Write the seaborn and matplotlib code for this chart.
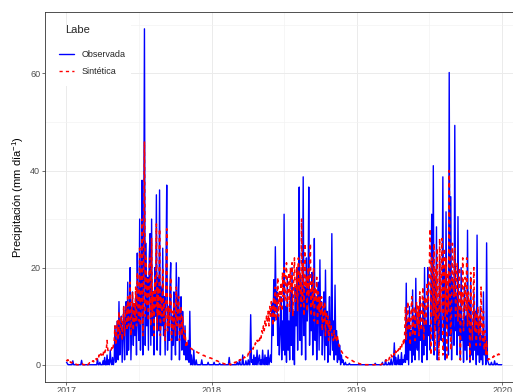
import matplotlib
matplotlib.use("Agg")
import matplotlib.pyplot as plt
from matplotlib.patches import Rectangle
import pandas as pd
import seaborn as sns

# precipitation, one value every 2 days (183 per year)
# one row per month: Jan .. Dec
years = [2017, 2018, 2019]

obs_2017 = [
    0.5, 0.3, 0, 0, 0, 0, 0, 0, 0.8, 0, 0, 0, 0, 0, 0, 0,
    0, 0, 0, 0.9, 0, 0, 0, 0, 0, 0, 0, 0, 0, 0,
    0, 0, 0, 0, 0, 0, 0, 0, 0, 1.2, 0, 0, 0.5, 0, 0,
    0, 0.8, 0, 1.5, 0, 0, 2, 0, 1, 0, 3, 0.5, 0, 1.5, 0,
    1, 8, 0.5, 4, 9, 1, 13, 2, 7, 10, 0.5, 6, 12, 1, 9, 13,
    2, 17, 3, 10, 20, 1, 8, 15, 4, 12, 6, 14, 2, 23, 9,
    5, 30, 3, 12, 38, 2, 20, 69.2, 4, 25, 8, 18, 3, 22, 27,
    4, 30, 6, 15, 2, 20, 10, 35, 3, 18, 7, 36, 2, 16, 8, 24,
    6, 14, 2, 18, 37, 3, 12, 5, 16, 21, 1, 10, 4, 15, 8,
    2, 21, 5, 12, 18, 1, 9, 14, 3, 11, 6, 2, 8, 1, 4,
    1, 5, 0.5, 11, 0, 2, 0, 0, 3, 0, 0, 1, 0, 0, 0,
    0, 0, 0, 1, 0, 0, 0, 0, 0, 0, 0, 0.5, 0, 0, 0, 0,
]
syn_2017 = [
    1, 0.8, 1, 0.6, 0.9, 0.5, 0.4, 0.5, 0.3, 0.2, 0.3, 0.1, 0.1, 0, 0, 0,
    0, 0, 0, 0, 0.2, 0, 0, 0, 0, 0.3, 0, 0, 0.2, 0.4,
    0.3, 0.5, 0.4, 0.8, 0.6, 1, 0.8, 1.2, 1, 1.5, 1.2, 2, 1.5, 2.2, 2,
    2.5, 2, 3, 2.5, 3, 2.8, 5, 3, 2.8, 3, 3.2, 3, 3.5, 3, 4,
    5, 8, 4, 7, 9, 5, 11, 6, 8, 10, 5, 9, 12, 6, 10, 12,
    7, 14, 8, 12, 17, 6, 11, 15, 7, 13, 9, 16, 8, 19, 12,
    9, 24, 8, 15, 30, 6, 20, 46, 10, 22, 12, 18, 9, 20, 22,
    8, 26, 10, 15, 6, 18, 12, 29, 7, 16, 10, 28, 6, 14, 10, 20,
    9, 13, 5, 16, 28, 7, 12, 8, 14, 18, 5, 11, 7, 13, 9,
    6, 16, 8, 11, 14, 5, 9, 12, 6, 10, 7, 5, 7, 4, 5,
    4, 3.8, 3.6, 3.5, 3.4, 3.3, 3.2, 3, 3, 2.9, 2.8, 2.7, 2.6, 2.5, 2.4,
    2.4, 2.3, 2.2, 2.1, 2, 1.9, 1.9, 1.8, 1.7, 1.7, 1.6, 1.5, 1.5, 1.4, 1.4, 1.3,
]
obs_2018 = [
    0, 0, 0, 0.5, 0, 0, 0, 0, 0, 0, 0.3, 0, 0, 0, 0, 0,
    0, 0, 0, 0, 0, 0, 1.5, 0, 0, 0, 0, 0, 0, 0,
    0, 0, 0.5, 0, 0, 1, 0, 0, 0, 2, 0, 0, 0, 0.8, 0,
    0, 1, 0, 0, 10.3, 0.5, 1, 0, 2, 0, 1.5, 0, 3, 0, 1,
    2, 0, 1, 0, 3, 0.5, 0, 2, 0, 1.5, 0, 3, 0, 1, 2, 0.5,
    12.7, 6, 17.5, 9, 24.3, 11, 15, 4, 10, 2, 7, 14, 1, 9, 3,
    31, 2, 12, 0.5, 18, 3, 9, 1, 15, 4, 20, 1, 11, 0, 16,
    8, 20, 3, 14, 36.6, 5, 18, 2, 11, 38.7, 6, 16, 1, 22, 9, 13,
    36.6, 4, 15, 7, 19, 2, 12, 26, 5, 14, 1, 10, 17, 3, 21.6,
    6, 13, 2, 9, 15, 1, 19.5, 4, 11, 0.5, 8, 14, 2, 6, 27,
    3, 9, 1, 16.4, 2, 7, 0.5, 5, 1, 4, 0, 2, 0.5, 1, 0,
    0, 0.5, 0, 0, 0, 0, 0.3, 0, 0, 0, 0, 0, 0, 0, 0, 0,
]
syn_2018 = [
    1.3, 1.2, 1.1, 1, 1, 0.9, 0.8, 0.8, 0.7, 0.6, 0.5, 0.5, 0.4, 0.3, 0.3, 0.2,
    0.2, 0.1, 0.1, 0, 0, 0, 0.2, 0, 0, 0.3, 0.2, 0.4, 0.3, 0.5,
    0.4, 0.6, 0.5, 0.8, 0.7, 1, 0.9, 1.2, 1, 1.4, 1.3, 1.6, 1.5, 1.8, 2,
    1.8, 2.2, 3, 2.5, 2.8, 3, 3.5, 3.2, 4, 3.8, 4.5, 4.2, 5, 4.8, 5.5,
    5, 6, 5.5, 7, 6.5, 8, 7, 9, 8, 10, 9, 11, 8, 12, 10, 13,
    11, 8, 14, 10, 16, 9, 13, 18, 10, 15, 12, 17, 11, 19, 14,
    20, 13, 18, 21, 12, 16, 19, 11, 20, 15, 21, 10, 17, 22, 13,
    14, 20, 11, 22, 15, 19, 12, 30, 13, 21, 10, 25, 16, 18, 11, 20,
    14, 19, 25, 10, 17, 12, 20, 9, 16, 13, 18, 8, 15, 11, 14,
    10, 14, 7, 12, 9, 13, 6, 11, 8, 10, 5, 9, 7, 8, 6,
    6, 5, 7, 5.5, 6, 5, 5.8, 4.5, 4, 3.5, 3, 2.8, 2.5, 2.2, 2,
    1.9, 1.8, 1.6, 1.5, 1.4, 1.3, 1.2, 1.1, 1, 0.9, 0.8, 0.7, 0.6, 0.5, 0.5, 0.4,
]
obs_2019 = [
    0, 0, 0, 0, 0, 0, 0, 0, 0, 0, 0, 0, 0, 0, 0, 0,
    0, 0, 0, 0, 0, 0, 0, 0.3, 0, 0, 0, 0, 0, 0,
    0, 0, 0.5, 0, 0, 0, 1, 0, 0, 0, 0.5, 0, 0, 1.2, 0,
    0, 1, 4.5, 0, 1.5, 0, 0.5, 2, 0, 1, 0, 2.5, 0, 1, 0.5,
    2, 0.5, 16.8, 1, 9, 0, 12, 3, 7, 0.5, 15.4, 2, 10, 1, 17.8, 4,
    3, 11, 1, 14, 5, 8, 0.5, 13, 2, 20, 4, 9, 1, 20, 6,
    8, 3, 15, 31, 5, 41, 2, 18, 7, 28.4, 1, 13, 4, 22, 6,
    5, 12, 38.7, 3, 20, 1, 31.5, 8, 15, 2, 60.2, 6, 34.6, 1, 18, 9,
    4, 49.3, 7, 14, 2, 30.5, 6, 12, 1, 20, 5, 9, 0.5, 16, 3,
    10, 1, 27.7, 4, 13, 0.5, 18, 2, 8, 1, 15, 3, 11, 0, 26.7,
    2, 9, 0.5, 12, 1, 6, 0, 15, 2, 5, 0, 25.1, 1, 0.5, 0,
    0, 0, 0.5, 0, 0, 0, 0.8, 0, 0, 0.3, 0, 0, 0, 0, 0, 0,
]
syn_2019 = [
    0.4, 0.3, 0.3, 0.2, 0.2, 0.1, 0.1, 0.1, 0, 0, 0, 0, 0, 0, 0, 0,
    0, 0, 0, 0, 0, 0, 0, 0, 0, 0, 0, 0, 0, 0,
    0, 0.1, 0.2, 0.3, 0.5, 0.4, 0.8, 1, 0.7, 1.2, 1, 1.5, 1.3, 2, 1.6,
    2, 2.5, 2, 3, 2.5, 3.2, 2.8, 3, 3.5, 3, 4, 3.5, 4.5, 5, 4,
    6, 12, 5, 9, 13, 7, 10, 4, 11, 14, 6, 9, 12, 5, 10, 13,
    8, 12, 6, 15, 10, 7, 13, 16, 5, 11, 14, 8, 17, 12, 15,
    20, 28, 2, 22, 18, 10, 25, 3, 20, 9, 24, 14, 1, 26, 11,
    18, 26, 2, 20, 24, 10, 22, 1, 19, 11, 40, 16, 3, 13, 25, 17,
    14, 24, 10, 18, 21, 9, 16, 20, 1, 15, 12, 22, 7, 14, 18,
    11, 22, 8, 15, 12, 1, 19, 10, 5, 13, 20, 7, 11, 4, 9,
    12, 6, 10, 4, 16, 8, 5, 11, 3, 7, 2, 5, 1.5, 1, 1.2,
    1.2, 1.4, 1.3, 1.6, 1.5, 1.8, 1.7, 2, 1.9, 2.1, 2, 2.2, 2.1, 2.3, 2.2, 2.2,
]

series_names = ["Observada", "Sintética"]
series_colors = ["#0000FF", "#FF0000"]
legend_title = "Labe"
y_label = "Precipitación (mm día$^{-1}$)"
year_ticks = ["2017", "2018", "2019", "2020"]
y_ticks = [0, 20, 40, 60]
y_minor = [10, 30, 50, 70]

frames = []
for year, obs, syn in zip(years, [obs_2017, obs_2018, obs_2019],
                          [syn_2017, syn_2018, syn_2019]):
    assert len(obs) == 183 and len(syn) == 183, (year, len(obs), len(syn))
    fechas = pd.date_range(f"{year}-01-01", periods=183, freq="2D")
    frames.append(pd.DataFrame({"fecha": fechas, "serie": series_names[0], "valor": obs}))
    frames.append(pd.DataFrame({"fecha": fechas, "serie": series_names[1], "valor": syn}))
df = pd.concat(frames, ignore_index=True)

sns.set_theme(style="white")
plt.rcParams["font.family"] = ["Liberation Sans", "DejaVu Sans"]
plt.rcParams["mathtext.fontset"] = "custom"
plt.rcParams["mathtext.rm"] = "Liberation Sans"
plt.rcParams["mathtext.default"] = "regular"

W, H = 513, 392
L, T, PW, PH = 44.7, 12.0, 478.8, 369.5   # panel in pixels (runs past the right edge)
fig = plt.figure(figsize=(W / 100, H / 100), dpi=100)
ax = fig.add_axes([L / W, 1 - (T + PH) / H, PW / W, PH / H])


def ax_xy(px, py):
    return (px - L) / PW, 1 - (py - T) / PH


sns.lineplot(
    data=df, x="fecha", y="valor", hue="serie", style="serie",
    hue_order=series_names, style_order=series_names,
    palette=dict(zip(series_names, series_colors)),
    dashes={series_names[0]: "", series_names[1]: (2.3, 2.3)},
    estimator=None, linewidth=1.0, ax=ax, legend=True,
)
for line in ax.get_lines():
    line.set_zorder(3)
ax.get_lines()[1].set_linewidth(1.15)

# ggplot-like limits (5% expansion)
x0, x1 = df["fecha"].min(), df["fecha"].max()
span = x1 - x0
ax.set_xlim(x0 - 0.05 * span, x1 + 0.05 * span)
ymax = df["valor"].max()
ax.set_ylim(-0.05 * ymax, 1.05 * ymax)

ax.set_xticks(pd.to_datetime([f"{y}-01-01" for y in year_ticks]))
ax.set_xticklabels(year_ticks)
ax.set_xticks(pd.to_datetime([f"{y}-07-02" for y in year_ticks[:-1]]), minor=True)
ax.set_yticks(y_ticks)
ax.set_yticklabels([str(v) for v in y_ticks])
ax.set_yticks(y_minor, minor=True)

ax.set_axisbelow(True)
ax.grid(which="major", color="#EBEBEB", linewidth=0.7)
ax.grid(which="minor", color="#F2F2F2", linewidth=0.45)
ax.tick_params(which="major", length=2, width=0.5, color="#333333",
               labelsize=6.5, labelcolor="#4D4D4D", pad=1.2,
               bottom=True, left=True)
ax.tick_params(which="minor", length=0)
for sp in ax.spines.values():
    sp.set_color("#333333")
    sp.set_linewidth(0.6)

ax.set_xlabel("")
ax.set_ylabel(y_label, fontsize=8, labelpad=3, color="black")

# legend: white box over the grid, title and keys
bx, by = ax_xy(L, 86)
bx2, by2 = ax_xy(131, 25)
ax.add_patch(Rectangle((bx, by), bx2 - bx, by2 - by, transform=ax.transAxes,
                       facecolor="white", edgecolor="none", zorder=1))
handles, labels = ax.get_legend_handles_labels()
leg = ax.legend(handles, labels, loc="upper left", bbox_to_anchor=ax_xy(59, 50),
                frameon=False, fontsize=6.5, handlelength=1.7, handletextpad=0.8,
                labelspacing=0.85, borderpad=0, borderaxespad=0)
for h in leg.get_lines():
    h.set_linewidth(1.0)
tx, ty = ax_xy(65.5, 30)
ax.text(tx, ty, legend_title, transform=ax.transAxes, fontsize=8,
        ha="left", va="center", zorder=5)

fig.savefig("out.png", dpi=100)
